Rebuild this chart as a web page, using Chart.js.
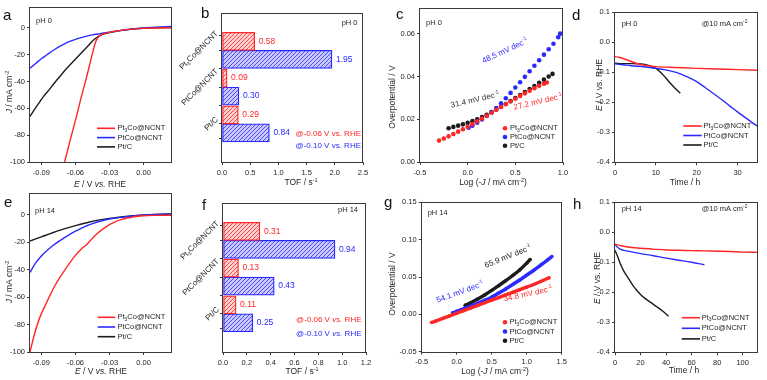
<!DOCTYPE html>
<html>
<head>
<meta charset="utf-8">
<title>Pt3Co@NCNT HER</title>
<script src="https://cdn.jsdelivr.net/npm/chart.js@4.4.1/dist/chart.umd.min.js"></script>
<style>
  body { margin: 0; background: #fff; }
  #fig { position: relative; width: 767px; height: 380px; }
  #fig canvas { position: absolute; left: 0; top: 0; }
</style>
</head>
<body>
<div id="fig">
  <canvas id="pa" width="767" height="380"></canvas>
  <canvas id="pb" width="767" height="380"></canvas>
  <canvas id="pc" width="767" height="380"></canvas>
  <canvas id="pd" width="767" height="380"></canvas>
  <canvas id="pe" width="767" height="380"></canvas>
  <canvas id="pf" width="767" height="380"></canvas>
  <canvas id="pg" width="767" height="380"></canvas>
  <canvas id="ph" width="767" height="380"></canvas>
</div>
<script>
// series names (markup: _{sub} ^{sup} *italic*)
const SERIES = ['Pt_{3}Co@NCNT', 'PtCo@NCNT', 'Pt/C'];
const CATS = ['Pt_{3}Co@NCNT', 'PtCo@NCNT', 'Pt/C'];

// a: LSV pH 0
const A_RED_E = [-0.0695, -0.065, -0.060, -0.055, -0.050, -0.045, -0.042, -0.040, -0.038, -0.035, -0.030, -0.025, -0.020, -0.010, 0.000, 0.010, 0.025];
const A_RED_J = [-100, -85, -69, -52, -36, -19, -10, -7, -5.5, -4.3, -3.3, -2.5, -1.8, -0.9, -0.3, 0, 0.2];
const A_BLU_E = [-0.100, -0.095, -0.090, -0.085, -0.080, -0.075, -0.070, -0.065, -0.060, -0.055, -0.050, -0.045, -0.040, -0.035, -0.030, -0.020, -0.010, 0.000, 0.010, 0.025];
const A_BLU_J = [-30, -26.5, -23, -20, -17, -14.3, -12, -10, -8.5, -7.2, -6.1, -5.2, -4.5, -3.8, -3.2, -2, -0.9, 0, 0.5, 1.2];
const A_BLK_E = [-0.100, -0.097, -0.093, -0.088, -0.083, -0.078, -0.073, -0.068, -0.063, -0.058, -0.053, -0.048, -0.044, -0.040, -0.036, -0.032, -0.028, -0.020, -0.010, 0.000, 0.010, 0.025];
const A_BLK_J = [-66, -62, -57, -51, -46, -40.5, -35.5, -30.5, -26, -21.5, -17, -12.5, -9, -6.5, -4.8, -3.8, -3, -1.8, -0.8, -0.2, 0.1, 0.3];

// e: LSV pH 14
const E_RED_E = [-0.100, -0.097, -0.094, -0.090, -0.086, -0.082, -0.078, -0.074, -0.070, -0.065, -0.060, -0.055, -0.050, -0.045, -0.040, -0.035, -0.030, -0.025, -0.020, -0.010, 0.000, 0.010, 0.025];
const E_RED_J = [-100, -90, -81, -72, -65, -58, -51.5, -46, -41, -35, -29.5, -25, -21.5, -17, -13, -9.8, -7, -5, -3.4, -1.5, -0.6, -0.3, -0.2];
const E_BLU_E = [-0.100, -0.095, -0.090, -0.085, -0.080, -0.075, -0.070, -0.065, -0.060, -0.055, -0.050, -0.045, -0.040, -0.035, -0.030, -0.020, -0.010, 0.000, 0.010, 0.025];
const E_BLU_J = [-42, -35, -30, -26, -22.5, -19.5, -16.8, -14.2, -11.9, -9.8, -7.9, -6.3, -5, -3.9, -3, -1.8, -0.8, 0, 0.4, 0.7];
const E_BLK_E = [-0.100, -0.090, -0.080, -0.070, -0.060, -0.050, -0.040, -0.030, -0.020, -0.010, 0.000, 0.010, 0.025];
const E_BLK_J = [-19, -16, -13, -10.2, -7.8, -5.7, -3.8, -2.5, -1.5, -0.6, 0, 0.4, 0.8];

// b, f: TOF (red @-0.06 V, blue @-0.10 V)
const B_RED = [0.58, 0.09, 0.29];
const B_BLUE = [1.95, 0.30, 0.84];
const F_RED = [0.31, 0.13, 0.11];
const F_BLUE = [0.94, 0.43, 0.25];

// c: Tafel pH 0
const C_RED_X = [-0.30, -0.25, -0.20, -0.15, -0.10, -0.05, 0.00, 0.05, 0.10, 0.15, 0.20, 0.25, 0.30, 0.35, 0.40, 0.45, 0.50, 0.55, 0.60, 0.65, 0.70, 0.75, 0.80, 0.83];
const C_RED_Y = [0.0100, 0.0110, 0.0120, 0.0131, 0.0142, 0.0153, 0.0165, 0.0177, 0.0190, 0.0203, 0.0216, 0.0230, 0.0244, 0.0257, 0.0270, 0.0283, 0.0296, 0.0309, 0.0321, 0.0333, 0.0345, 0.0356, 0.0366, 0.0372];
const C_BLU_X = [0.01, 0.05, 0.10, 0.15, 0.20, 0.25, 0.30, 0.35, 0.40, 0.45, 0.50, 0.55, 0.60, 0.65, 0.70, 0.75, 0.80, 0.85, 0.90, 0.95, 0.97];
const C_BLU_Y = [0.0160, 0.0170, 0.0184, 0.0199, 0.0215, 0.0233, 0.0252, 0.0274, 0.0298, 0.0323, 0.0348, 0.0373, 0.0398, 0.0424, 0.0450, 0.0476, 0.0502, 0.0527, 0.0553, 0.0583, 0.0600];
const C_BLK_X = [-0.20, -0.15, -0.10, -0.05, 0.00, 0.05, 0.10, 0.15, 0.20, 0.25, 0.30, 0.35, 0.40, 0.45, 0.50, 0.55, 0.60, 0.65, 0.70, 0.75, 0.80, 0.85, 0.89];
const C_BLK_Y = [0.0158, 0.0164, 0.0170, 0.0176, 0.0183, 0.0191, 0.0200, 0.0210, 0.0221, 0.0233, 0.0245, 0.0258, 0.0271, 0.0285, 0.0299, 0.0313, 0.0327, 0.0341, 0.0355, 0.0370, 0.0385, 0.0400, 0.0412];

// g: Tafel pH 14
const G_RED_X = [-0.36, -0.3, -0.2, -0.1, 0.0, 0.1, 0.2, 0.3, 0.4, 0.5, 0.6, 0.7, 0.8, 0.9, 1.0, 1.1, 1.2, 1.32];
const G_RED_Y = [-0.011, -0.009, -0.0055, -0.002, 0.0015, 0.005, 0.0085, 0.012, 0.0155, 0.019, 0.0225, 0.026, 0.0295, 0.033, 0.0365, 0.040, 0.044, 0.049];
const G_BLU_X = [-0.06, 0.0, 0.1, 0.2, 0.3, 0.4, 0.5, 0.6, 0.7, 0.8, 0.9, 1.0, 1.1, 1.2, 1.3, 1.36];
const G_BLU_Y = [0.0022, 0.0040, 0.0075, 0.0110, 0.0148, 0.0188, 0.0230, 0.0285, 0.0340, 0.0400, 0.0460, 0.0525, 0.0590, 0.0660, 0.0730, 0.0775];
const G_BLK_X = [0.12, 0.2, 0.3, 0.4, 0.5, 0.6, 0.7, 0.8, 0.9, 1.0, 1.05];
const G_BLK_Y = [0.0120, 0.0155, 0.0205, 0.0260, 0.0320, 0.0385, 0.0450, 0.0520, 0.0595, 0.0685, 0.0735];

// d: stability pH 0
const D_RED_T = [0, 1, 2, 3, 4, 5, 6, 8, 10, 15, 20, 25, 30, 35];
const D_RED_E = [-0.048, -0.050, -0.054, -0.059, -0.064, -0.069, -0.073, -0.078, -0.081, -0.084, -0.087, -0.089, -0.091, -0.093];
const D_BLU_T = [0, 2, 4, 6, 8, 10, 12, 14, 16, 18, 20, 22, 24, 26, 28, 30, 32, 34, 35];
const D_BLU_E = [-0.072, -0.075, -0.078, -0.080, -0.083, -0.087, -0.091, -0.097, -0.105, -0.117, -0.131, -0.150, -0.170, -0.190, -0.211, -0.232, -0.252, -0.272, -0.281];
const D_BLK_T = [0, 2, 4, 6, 7, 8, 9, 10, 11, 12, 13, 14, 15, 16];
const D_BLK_E = [-0.070, -0.071, -0.071, -0.072, -0.073, -0.076, -0.081, -0.087, -0.098, -0.112, -0.128, -0.143, -0.157, -0.170];

// h: stability pH 14
const H_RED_T = [0, 5, 10, 20, 30, 40, 50, 60, 70, 80, 90, 100, 112];
const H_RED_E = [-0.040, -0.045, -0.049, -0.053, -0.056, -0.059, -0.060, -0.061, -0.062, -0.063, -0.064, -0.066, -0.067];
const H_BLU_T = [0, 2, 4, 8, 15, 20, 30, 40, 50, 60, 70];
const H_BLU_E = [-0.040, -0.050, -0.056, -0.061, -0.067, -0.071, -0.078, -0.086, -0.093, -0.100, -0.108];
const H_BLK_T = [0, 1, 2, 4, 7, 10, 14, 17, 20, 24, 29, 33, 38, 42];
const H_BLK_E = [-0.060, -0.070, -0.080, -0.103, -0.130, -0.150, -0.177, -0.193, -0.207, -0.222, -0.237, -0.249, -0.265, -0.280];

// tick values
const A_XT = [-0.09, -0.06, -0.03, 0.00];
const A_YT = [0, -20, -40, -60, -80, -100];
const B_XT = [0, 0.5, 1.0, 1.5, 2.0, 2.5];
const F_XT = [0, 0.2, 0.4, 0.6, 0.8, 1.0, 1.2];
const C_XT = [-0.5, 0, 0.5, 1.0];
const C_YT = [0, 0.02, 0.04, 0.06];
const G_XT = [-0.5, 0, 0.5, 1.0, 1.5];
const G_YT = [-0.05, 0, 0.05, 0.10, 0.15];
const D_XT = [0, 10, 20, 30];
const H_XT = [0, 20, 40, 60, 80, 100];
const DH_YT = [0.1, 0, -0.1, -0.2, -0.3, -0.4];

const FONT = '"Liberation Sans", Arial, Helvetica, sans-serif';
const RED = '#ff2626', BLUE = '#2a2aff', BLK = '#1c1c1c';
const TXT = '#262626', AXIS = '#3a3a3a';
const W = 767, H = 380, YW = 30, XH = 16;

function parseRich(s) {
  const out = [];
  let it = false, buf = '', i = 0;
  const flush = () => { if (buf) out.push({ t: buf, it, mode: 0 }); buf = ''; };
  while (i < s.length) {
    const c = s[i];
    if (c === '*') { flush(); it = !it; i++; continue; }
    if ((c === '_' || c === '^') && s[i + 1] === '{') {
      flush();
      const j = s.indexOf('}', i);
      out.push({ t: s.slice(i + 2, j), it, mode: c === '_' ? 1 : -1 });
      i = j + 1;
      continue;
    }
    buf += c; i++;
  }
  flush();
  return out;
}

function richFont(p, size) {
  return (p.it ? 'italic ' : '') + (p.mode ? size * 0.65 : size) + 'px ' + FONT;
}

function richWidth(ctx, s, size) {
  let w = 0;
  parseRich(s).forEach(p => { ctx.font = richFont(p, size); w += ctx.measureText(p.t).width; });
  return w;
}

function drawRich(ctx, s, x, y, size, color, align, rot) {
  const parts = parseRich(s);
  let w = 0;
  parts.forEach(p => { ctx.font = richFont(p, size); p.w = ctx.measureText(p.t).width; w += p.w; });
  ctx.save();
  ctx.translate(x, y);
  if (rot) ctx.rotate(rot * Math.PI / 180);
  let cx = align === 'center' ? -w / 2 : align === 'right' ? -w : 0;
  ctx.fillStyle = color;
  ctx.textBaseline = 'middle';
  ctx.textAlign = 'left';
  parts.forEach(p => {
    ctx.font = richFont(p, size);
    const dy = p.mode === 1 ? size * 0.3 : p.mode === -1 ? -size * 0.35 : 0;
    ctx.fillText(p.t, cx, dy);
    cx += p.w;
  });
  ctx.restore();
}

function decoPlugin(o) {
  return {
    id: 'deco',
    afterDraw(chart) {
      const ctx = chart.ctx, a = chart.chartArea;
      ctx.save();
      ctx.strokeStyle = AXIS;
      ctx.lineWidth = 1;
      ctx.strokeRect(Math.round(a.left) - 0.5, Math.round(a.top) + 0.5,
        Math.round(a.right) - Math.round(a.left), Math.round(a.bottom) - Math.round(a.top));

      if (o.letter) {
        ctx.font = '15px ' + FONT;
        ctx.fillStyle = '#111';
        ctx.textBaseline = 'alphabetic';
        ctx.fillText(o.letter[0], o.letter[1], o.letter[2]);
      }
      (o.texts || []).forEach(t => drawRich(ctx, t[0], t[1], t[2], t[3], t[4], t[5], t[6] || 0));

      if (o.legend) {
        const L = o.legend;
        chart.data.datasets.forEach((d, i) => {
          const y = L.y + i * L.dy;
          if (L.dot) {
            ctx.fillStyle = d.backgroundColor;
            ctx.beginPath();
            ctx.arc(L.x, y, 2.3, 0, Math.PI * 2);
            ctx.fill();
          } else {
            ctx.strokeStyle = d.borderColor;
            ctx.lineWidth = 1.6;
            ctx.beginPath();
            ctx.moveTo(L.x, y);
            ctx.lineTo(L.x + L.len, y);
            ctx.stroke();
          }
          drawRich(ctx, d.label, L.tx, y, 7.5, TXT, 'left', 0);
        });
      }

      if (o.values) {
        chart.data.datasets.forEach((d, i) => {
          chart.getDatasetMeta(i).data.forEach((bar, j) => {
            drawRich(ctx, d.data[j].x.toFixed(2), bar.x + 4, bar.y, 8.5, d.textColor, 'left', 0);
          });
        });
      }

      if (o.cats) {
        const ys = chart.scales.y;
        o.cats.forEach((c, j) => {
          const w = richWidth(ctx, c, 8);
          const cx = a.left - 5 - w / 2 * 0.7071;
          drawRich(ctx, c, cx, ys.getPixelForValue(j + 1), 8, TXT, 'center', -45);
        });
      }
      ctx.restore();
    }
  };
}

function place(L, T, R, B) {
  return { padding: { left: L - YW, top: T, right: W - R, bottom: H - B - XH } };
}

function axis(pos, min, max, ticks, fmt) {
  const horiz = pos === 'bottom';
  return {
    type: 'linear', position: pos, min, max,
    afterBuildTicks: s => { s.ticks = ticks.map(v => ({ value: v })); },
    afterFit: s => { if (horiz) s.height = XH; else s.width = YW; },
    grid: { drawOnChartArea: false, drawTicks: true, tickLength: 3, color: AXIS },
    border: { display: false },
    ticks: {
      font: { family: FONT, size: 7.5 }, color: TXT, padding: horiz ? 3 : 2,
      maxRotation: 0, minRotation: 0, autoSkip: false, callback: v => fmt(v)
    }
  };
}

function catAxis() {
  return {
    type: 'linear', position: 'left', min: 0.32, max: 3.70, reverse: true,
    afterBuildTicks: s => { s.ticks = CATS.flatMap((c, i) => [i + 0.795, i + 1.205]).map(v => ({ value: v })); },
    afterFit: s => { s.width = YW; },
    grid: { drawOnChartArea: false, drawTicks: true, tickLength: 3, color: AXIS },
    border: { display: false },
    ticks: { display: false }
  };
}

function xy(xs, ys) {
  return xs.map((x, i) => ({ x, y: ys[i] }));
}

function lineSet(label, xs, ys, color) {
  return {
    label, data: xy(xs, ys), borderColor: color, backgroundColor: color,
    borderWidth: 1.4, pointRadius: 0, cubicInterpolationMode: 'monotone', fill: false
  };
}

function dotSet(label, xs, ys, color, thick) {
  return {
    label, data: xy(xs, ys), borderColor: color, backgroundColor: color,
    showLine: !!thick, borderWidth: thick || 0, pointRadius: thick ? 1.8 : 2.3,
    pointBorderWidth: 0, cubicInterpolationMode: 'monotone', fill: false
  };
}

function hatch(line, bg) {
  const c = document.createElement('canvas');
  c.width = c.height = 4;
  const g = c.getContext('2d');
  g.fillStyle = bg;
  g.fillRect(0, 0, 4, 4);
  g.strokeStyle = line;
  g.lineWidth = 1;
  g.beginPath();
  g.moveTo(0, 4); g.lineTo(4, 0);
  g.moveTo(-1, 1); g.lineTo(1, -1);
  g.moveTo(3, 5); g.lineTo(5, 3);
  g.stroke();
  return g.createPattern(c, 'repeat');
}

function barSet(label, vals, color, fill) {
  return {
    label, data: vals.map((v, i) => ({ x: v, y: i + 1 })),
    borderColor: color, backgroundColor: fill, textColor: color,
    borderWidth: 1.3, borderSkipped: false, barThickness: 18
  };
}

function make(id, type, datasets, scales, layout, deco, extra) {
  new Chart(document.getElementById(id), {
    type,
    data: { datasets },
    options: Object.assign({
      responsive: false, animation: false, events: [],
      layout,
      plugins: { legend: { display: false }, tooltip: { enabled: false } },
      scales
    }, extra || {}),
    plugins: [decoPlugin(deco)]
  });
}

const f2 = v => v.toFixed(2), f1 = v => v.toFixed(1), f0 = v => String(v);

// a
make('pa', 'line', [
  lineSet(SERIES[0], A_RED_E, A_RED_J, RED),
  lineSet(SERIES[1], A_BLU_E, A_BLU_J, BLUE),
  lineSet(SERIES[2], A_BLK_E, A_BLK_J, BLK)
], { x: axis('bottom', -0.10, 0.025, A_XT, f2), y: axis('left', -100, 16, A_YT, f0) },
place(30, 3, 172, 162), {
  letter: ['a', 3, 20],
  texts: [
    ['pH 0', 36, 21, 7.5, TXT, 'left'],
    ['*J* / mA cm^{-2}', 10, 92, 8.5, TXT, 'center', -90],
    ['*E* / V *vs.* RHE', 100, 185, 8.5, TXT, 'center']
  ],
  legend: { x: 97, len: 18, y: 128.3, dy: 9.3, tx: 117.5 }
});

// e
make('pe', 'line', [
  lineSet(SERIES[0], E_RED_E, E_RED_J, RED),
  lineSet(SERIES[1], E_BLU_E, E_BLU_J, BLUE),
  lineSet(SERIES[2], E_BLK_E, E_BLK_J, BLK)
], { x: axis('bottom', -0.10, 0.025, A_XT, f2), y: axis('left', -100, 16, A_YT, f0) },
place(30, 193, 172, 352), {
  letter: ['e', 4, 206.5],
  texts: [
    ['pH 14', 35, 210.7, 7.5, TXT, 'left'],
    ['*J* / mA cm^{-2}', 10, 282, 8.5, TXT, 'center', -90],
    ['*E* / V *vs.* RHE', 101, 372, 8.5, TXT, 'center']
  ],
  legend: { x: 97.7, len: 17.5, y: 317.3, dy: 9.7, tx: 117.5 }
});

// b
make('pb', 'bar', [
  barSet('@-0.06 V', B_RED, RED, hatch('#ff4a4a', '#ffd0d0')),
  barSet('@-0.10 V', B_BLUE, BLUE, hatch('#4a4aff', '#c9c9ff'))
], { x: axis('bottom', 0, 2.5, B_XT, f1), y: catAxis() },
place(222, 13, 363, 162), {
  letter: ['b', 201, 18],
  texts: [
    ['pH 0', 357.5, 23.3, 7.5, TXT, 'right'],
    ['@-0.06 V vs. RHE', 361, 134, 8, RED, 'right'],
    ['@-0.10 V vs. RHE', 361, 145.5, 8, BLUE, 'right'],
    ['TOF / s^{-1}', 301, 183, 8.5, TXT, 'center']
  ],
  values: true, cats: CATS
}, { indexAxis: 'y' });

// f
make('pf', 'bar', [
  barSet('@-0.06 V', F_RED, RED, hatch('#ff4a4a', '#ffd0d0')),
  barSet('@-0.10 V', F_BLUE, BLUE, hatch('#4a4aff', '#c9c9ff'))
], { x: axis('bottom', 0, 1.2, F_XT, f1), y: catAxis() },
place(223, 203, 366, 352), {
  letter: ['f', 202, 210],
  texts: [
    ['pH 14', 358, 209.5, 7.5, TXT, 'right'],
    ['@-0.06 V *vs.* RHE', 361.5, 320, 8, RED, 'right'],
    ['@-0.10 V *vs.* RHE', 361.5, 333.5, 8, BLUE, 'right'],
    ['TOF / s^{-1}', 302, 372, 8.5, TXT, 'center']
  ],
  values: true, cats: CATS
}, { indexAxis: 'y' });

// c
make('pc', 'line', [
  dotSet(SERIES[0], C_RED_X, C_RED_Y, RED),
  dotSet(SERIES[1], C_BLU_X, C_BLU_Y, BLUE),
  dotSet(SERIES[2], C_BLK_X, C_BLK_Y, BLK)
], { x: axis('bottom', -0.5, 1.0, C_XT, f1), y: axis('left', 0, 0.072, C_YT, f2) },
place(420, 8, 563, 162), {
  letter: ['c', 396, 18.5],
  texts: [
    ['pH 0', 426, 22.7, 7.5, TXT, 'left'],
    ['Overpotential / V', 393, 97, 8.5, TXT, 'center', -90],
    ['Log (-*J* / mA cm^{-2})', 493, 183, 8.5, TXT, 'center'],
    ['48.5 mV dec^{-1}', 505, 51, 8, BLUE, 'center', -25],
    ['31.4 mV dec^{-1}', 475, 100, 8, '#333', 'center', -13],
    ['27.2 mV dec^{-1}', 538, 102, 8, RED, 'center', -13]
  ],
  legend: { dot: true, x: 505, y: 128.3, dy: 8.7, tx: 510 }
});

// g
make('pg', 'line', [
  dotSet(SERIES[0], G_RED_X, G_RED_Y, RED, 3.4),
  dotSet(SERIES[1], G_BLU_X, G_BLU_Y, BLUE, 3.4),
  dotSet(SERIES[2], G_BLK_X, G_BLK_Y, BLK, 3.4)
], { x: axis('bottom', -0.5, 1.5, G_XT, f1), y: axis('left', -0.05, 0.15, G_YT, f2) },
place(421.7, 202.3, 561.7, 351.7), {
  letter: ['g', 384, 207],
  texts: [
    ['pH 14', 427.7, 212.7, 7.5, TXT, 'left'],
    ['Overpotential / V', 393, 284, 8.5, TXT, 'center', -90],
    ['Log (-*J* / mA cm^{-2})', 495, 372, 8.5, TXT, 'center'],
    ['65.9 mV dec^{-1}', 508, 256.7, 8, '#222', 'center', -22],
    ['54.1 mV dec^{-1}', 460, 292.3, 8, BLUE, 'center', -20],
    ['34.8 mV dec^{-1}', 528, 294, 8, RED, 'center', -12]
  ],
  legend: { dot: true, x: 505, y: 322.3, dy: 9.2, tx: 509.5 }
});

// d
make('pd', 'line', [
  lineSet(SERIES[0], D_RED_T, D_RED_E, RED),
  lineSet(SERIES[1], D_BLU_T, D_BLU_E, BLUE),
  lineSet(SERIES[2], D_BLK_T, D_BLK_E, BLK)
], { x: axis('bottom', 0, 35, D_XT, f0), y: axis('left', -0.4, 0.1, DH_YT, f1) },
place(615, 12.3, 758, 162.3), {
  letter: ['d', 572, 20],
  texts: [
    ['pH 0', 621.7, 24, 7.5, TXT, 'left'],
    ['@10 mA cm^{-2}', 701.7, 24, 7.5, TXT, 'left'],
    ['*E* / V vs. RHE', 600, 85, 8.5, TXT, 'center', -90],
    ['Time / h', 685, 183, 8.5, TXT, 'center']
  ],
  legend: { x: 683.3, len: 18.4, y: 126, dy: 9.5, tx: 703.5 }
});

// h
make('ph', 'line', [
  lineSet(SERIES[0], H_RED_T, H_RED_E, RED),
  lineSet(SERIES[1], H_BLU_T, H_BLU_E, BLUE),
  lineSet(SERIES[2], H_BLK_T, H_BLK_E, BLK)
], { x: axis('bottom', 0, 112, H_XT, f0), y: axis('left', -0.4, 0.1, DH_YT, f1) },
place(615, 202.3, 758, 352.3), {
  letter: ['h', 573, 209],
  texts: [
    ['pH 14', 621.7, 209.3, 7.5, TXT, 'left'],
    ['@10 mA cm^{-2}', 701.7, 209.3, 7.5, TXT, 'left'],
    ['*E* / V vs. RHE', 598, 278, 8.5, TXT, 'center', -90],
    ['Time / h', 684, 371, 8.5, TXT, 'center']
  ],
  legend: { x: 681.7, len: 18.3, y: 317.7, dy: 10.6, tx: 701.7 }
});
</script>
</body>
</html>
